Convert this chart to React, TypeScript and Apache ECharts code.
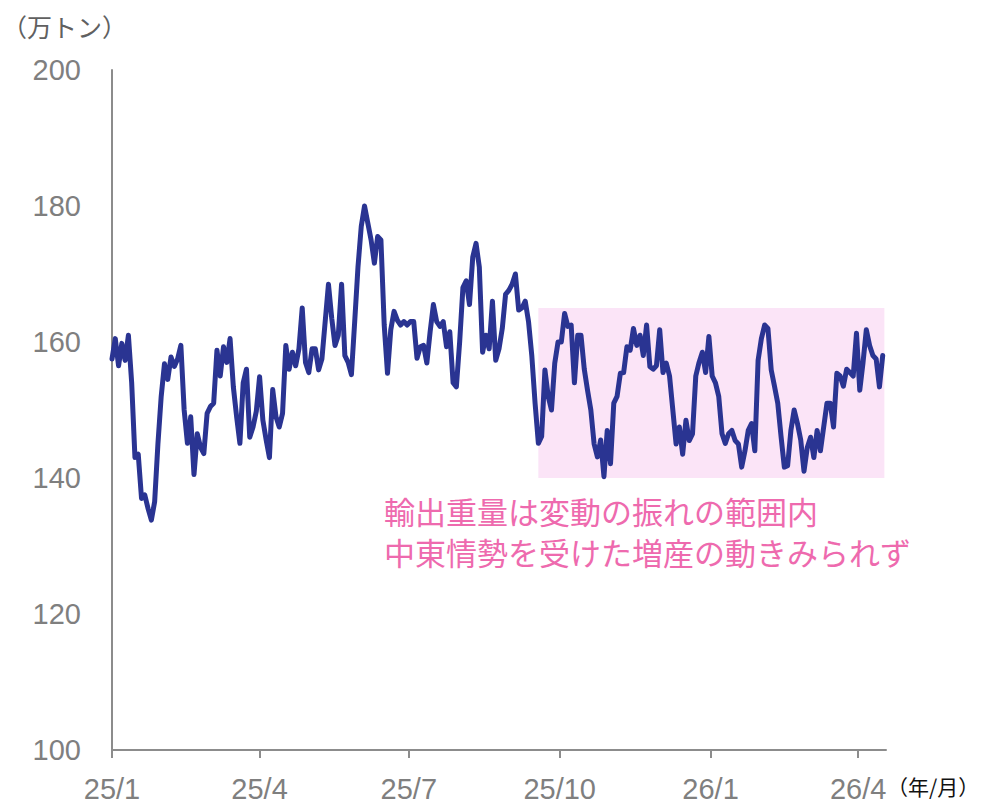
import React, { useEffect, useRef } from "react";
import * as echarts from "echarts";

// Export weight (10k tonnes), one reading every 2 days starting 2025-01-01
const stepDays = 2;
const exportWeight = [
  // 2025/1 - 2025/3
  157.5, 160.5, 156.5, 159.8, 157.3, 161, 154, 143, 143.5, 137,
  137.5, 135.5, 133.8, 136.5, 145, 152, 156.8, 154.5, 157.8, 156.4,
  157.5, 159.5, 150, 145.1, 149, 140.5, 146.5, 144.5, 143.6, 149.5,
  150.5, 151, 158.8, 155, 159.3, 157, 160.5, 153.4, 149, 145.1,
  // 2025/3 - 2025/6
  154, 156, 146, 147.5, 149.8, 154.9, 148.5, 145.6, 143, 153,
  149, 147.5, 149.5, 159.5, 156, 158.5, 156.5, 159, 165, 157,
  155.5, 159, 159, 155.9, 157.5, 163, 168.5, 163.5, 159.5, 161,
  168.5, 158, 157, 155.2, 163, 171, 177, 180, 177.5, 175,
  171.6,
  // 2025/6 - 2025/9
  175.5, 175, 162.5, 155.4, 161.8, 164.5, 163.2, 162.5, 163, 162.5,
  163, 163, 157.6, 159.3, 159.5, 156.9, 161.5, 165.5, 163, 162.3,
  163, 159.3, 161.5, 154, 153.4, 160, 168, 169, 165.5, 172.5,
  174.5, 171, 158.5, 161, 159, 166, 157.3, 159, 162, 167,
  167.6,
  // 2025/9 - 2025/11
  168.5, 170, 164.7, 165, 166, 163, 158, 151, 145.1, 146.1,
  155.9, 152, 150, 156.9, 160, 160, 164.2, 162.3, 162.5, 154,
  161, 161, 156, 152.9, 150, 145, 143.1, 145.6, 140.2, 147,
  142.1, 151, 152, 155.4, 155.5, 159.3, 158.8, 162, 159.5, 161,
  158,
  // 2025/11 - 2026/2
  162.5, 156.4, 156, 156.5, 161.8, 155.5, 156.9, 155, 150, 145,
  147.5, 143.5, 148.5, 145.5, 146.5, 155, 157, 158.5, 155.5, 160.8,
  155, 154, 152, 146.5, 145.1, 146.5, 147, 145.5, 145, 141.6,
  144, 147, 148, 144, 157.3, 160.5, 162.5, 162, 155.9, 153.5,
  151, 146.1,
  // 2026/2 - 2026/4
  141.6, 141.8, 147, 150, 148, 145.6, 141, 144.5, 146, 143,
  147, 144, 147.5, 151, 151, 147.5, 155.4, 155, 153.5, 156,
  155.5, 155, 161.3, 152.9, 157, 161.8, 159.5, 158, 157.5, 153.4,
  158,
];

// Quarter-start ticks, as day offsets from 2025-01-01
const tickDays = [0, 90, 181, 273, 365, 455];
const tickLabels = ["25/1", "25/4", "25/7", "25/10", "26/1", "26/4"];
const axisEndDay = 472;

// Normal fluctuation band
const bandDays = [260, 471];
const bandValues = [140, 165];

const yMin = 100;
const yMax = 200;
const yStep = 20;

const unitLabel = "（万トン）";
const periodLabel = "（年/月）";
const noteLines = [
  "輸出重量は変動の振れの範囲内",
  "中東情勢を受けた増産の動きみられず",
];

const LATIN = '"Liberation Sans", Arial, sans-serif';
const CJK = '"Noto Sans CJK JP", "Noto Sans", sans-serif';
const AXIS_GRAY = "#8c8c8c";
const LABEL_GRAY = "#7f7f7f";

export default function App() {
  const ref = useRef<HTMLDivElement>(null);

  useEffect(() => {
    if (!ref.current) return;
    const chart = echarts.init(ref.current, undefined, { renderer: "svg" });

    const seriesData = exportWeight.map((v, i) => [i * stepDays, v]);
    const labelByDay: Record<number, string> = {};
    tickDays.forEach((d, i) => (labelByDay[d] = tickLabels[i]));

    chart.setOption({
      animation: false,
      backgroundColor: "#ffffff",
      grid: {
        left: 112,
        right: 983 - 886,
        top: 70,
        bottom: 803 - 750,
        containLabel: false,
        outerBoundsMode: "none",
      },
      xAxis: {
        type: "value",
        min: 0,
        max: axisEndDay,
        axisLine: { show: true, lineStyle: { color: AXIS_GRAY, width: 2 } },
        axisTick: {
          show: true,
          length: 8,
          customValues: tickDays,
          lineStyle: { color: AXIS_GRAY, width: 2 },
        },
        axisLabel: {
          customValues: tickDays,
          formatter: (v: number) => labelByDay[v] ?? "",
          color: LABEL_GRAY,
          fontFamily: LATIN,
          fontSize: 29,
          margin: 24,
        },
        splitLine: { show: false },
      },
      yAxis: {
        type: "value",
        min: yMin,
        max: yMax,
        interval: yStep,
        axisLine: { show: true, lineStyle: { color: AXIS_GRAY, width: 2 } },
        axisTick: { show: false },
        axisLabel: {
          color: LABEL_GRAY,
          fontFamily: LATIN,
          fontSize: 29,
          margin: 31,
        },
        splitLine: { show: false },
      },
      series: [
        {
          type: "line",
          data: seriesData,
          showSymbol: false,
          symbol: "none",
          lineStyle: { color: "#2a3492", width: 5, join: "round", cap: "round" },
          markArea: {
            silent: true,
            itemStyle: { color: "#fbe4f7" },
            data: [
              [
                { xAxis: bandDays[0], yAxis: bandValues[0] },
                { xAxis: bandDays[1], yAxis: bandValues[1] },
              ],
            ],
          },
        },
      ],
      graphic: [
        {
          type: "text",
          x: 2,
          y: 26,
          style: {
            text: unitLabel,
            font: `25px ${CJK}`,
            fill: "#606060",
            verticalAlign: "middle",
          },
        },
        {
          type: "text",
          x: 887,
          y: 786,
          style: {
            text: periodLabel,
            font: `21px ${CJK}`,
            fill: "#111111",
            verticalAlign: "middle",
          },
        },
        ...noteLines.map((line, i) => ({
          type: "text",
          x: 384,
          y: 510 + i * 41,
          style: {
            text: line,
            font: `31px ${CJK}`,
            fill: "#ee6aae",
            verticalAlign: "middle",
          },
        })),
      ],
    });

    return () => chart.dispose();
  }, []);

  return (
    <div
      ref={ref}
      style={{
        position: "fixed",
        left: 0,
        top: 0,
        width: 983,
        height: 803,
        background: "#ffffff",
      }}
    />
  );
}
